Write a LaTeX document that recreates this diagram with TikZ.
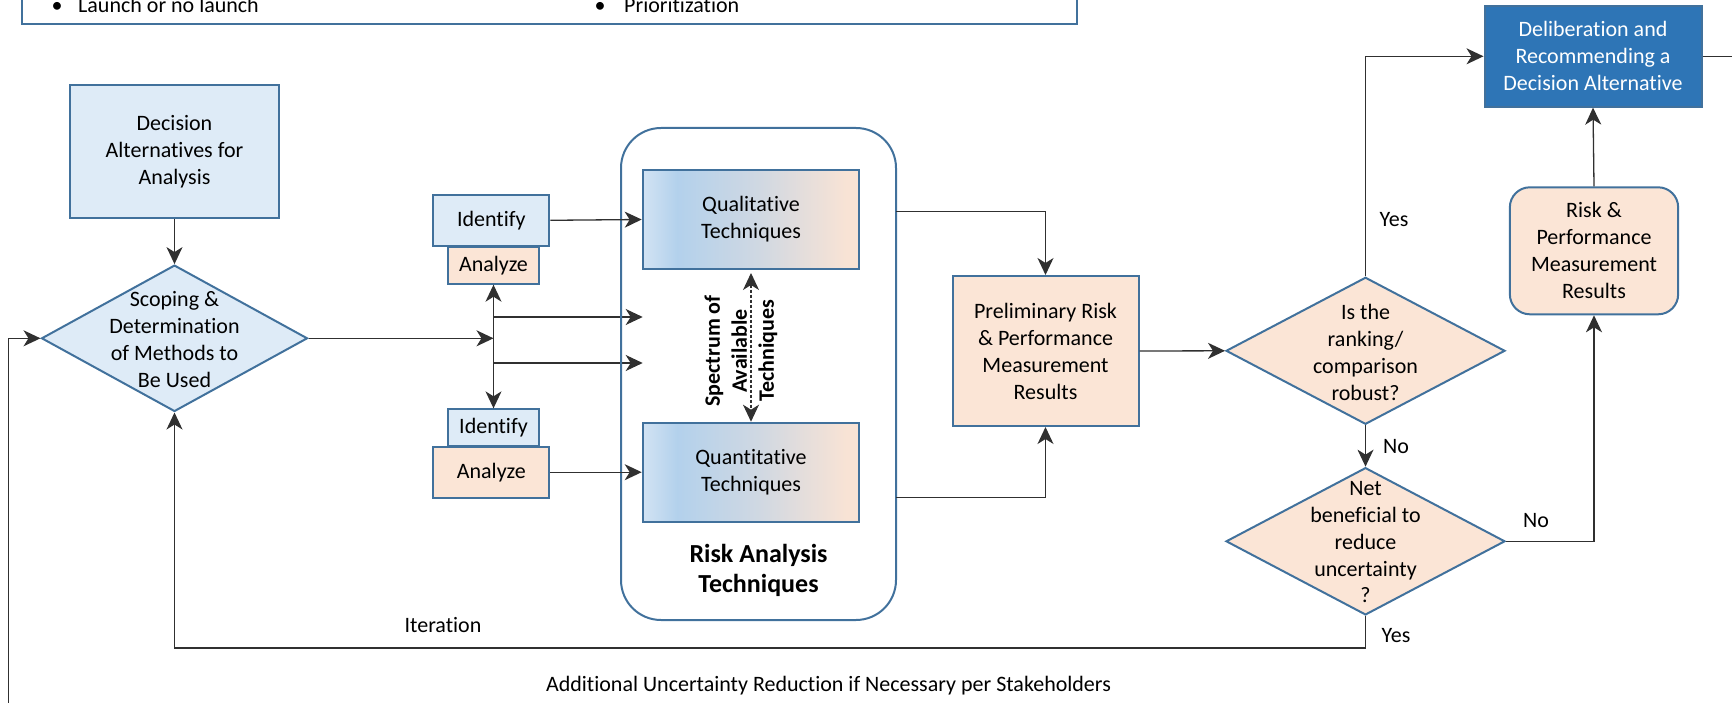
\documentclass[tikz,border=0pt]{standalone}
\usepackage{fontspec}
\setmainfont{Carlito}[Ligatures=NoCommon]
\usetikzlibrary{arrows.meta,shapes.geometric}
\definecolor{lblue}{HTML}{DEEBF7}
\definecolor{peach}{HTML}{FBE5D6}
\definecolor{bord}{HTML}{41719C}
\definecolor{dblue}{HTML}{2E75B6}
\definecolor{lnc}{HTML}{303030}
\definecolor{ga}{HTML}{D2E3F3}
\definecolor{gb}{HTML}{B3D1EC}
\definecolor{gc}{HTML}{D0D8E2}
\definecolor{gd}{HTML}{F8E3D5}
\pgfdeclarehorizontalshading{techgrad}{100bp}{color(0bp)=(ga); color(25bp)=(ga); color(33bp)=(gb); color(52bp)=(gc); color(72bp)=(gd); color(75bp)=(gd); color(100bp)=(gd)}
\tikzset{
  base/.style={font=\fontsize{22}{27}\selectfont, align=center, inner sep=0pt},
  rect/.style={base, draw=bord, line width=2pt, rectangle},
  dia/.style={draw=bord, line width=2pt, diamond, inner sep=0pt},
  conn/.style={draw=lnc, line width=1.3pt},
  arr/.style={conn, -{Stealth[length=17pt,width=16pt,inset=5pt]}},
  lbl/.style={base},
}
\begin{document}
\begin{tikzpicture}[x=1pt,y=-1pt]
\useasboundingbox (0,0) rectangle (1732,703);
\clip (0,0) rectangle (1732,703);

% top box (cropped)
\node[rect, minimum width=1055, minimum height=60.3] (topbox) at (549.5,-5.85) {};
\node[base, anchor=base] (bul1) at (57,13) {\textbullet};
\node[base, anchor=base west] (t1) at (78,13) {Launch or no launch};
\node[base, anchor=base] (bul2) at (600,13) {\textbullet};
\node[base, anchor=base west] (t2) at (624,13) {Prioritization};

% left column
\node[rect, fill=lblue, minimum width=209, minimum height=133] (da) at (174.5,151.5) {Decision\\Alternatives for\\Analysis};
\node[dia, fill=lblue, minimum width=266, minimum height=146.4] (scope) at (174.5,338.3) {};
\node[base] (scopet) at (174.5,339.5) {Scoping \&\\Determination\\of Methods to\\Be Used};
\draw[arr] (da.south) -- (scope.north);

% identify / analyze
\node[rect, fill=peach, minimum width=91.6, minimum height=37] (anaT) at (493.5,265.2) {Analyze};
\node[rect, fill=lblue, minimum width=116, minimum height=51.3] (idT) at (491.3,220.3) {Identify};
\node[rect, fill=lblue, minimum width=91.6, minimum height=36.7] (idB) at (493.5,427.7) {Identify};
\node[rect, fill=peach, minimum width=116, minimum height=51] (anaB) at (491.3,472.2) {Analyze};

\coordinate (j) at (493.5,338.3);
\coordinate (j1) at (493.5,317);
\coordinate (j2) at (493.5,363);
\coordinate (e1) at (642.7,317);
\coordinate (e2) at (642.7,363);
\draw[arr] (scope.east) -- (j);
\draw[arr] (j) -- (anaT.south);
\draw[arr] (j) -- (idB.north);
\draw[arr] (j1) -- (e1);
\draw[arr] (j2) -- (e2);

% container
\node[draw=bord, line width=2pt, rounded corners=40pt, minimum width=275, minimum height=492, inner sep=0pt] (cont) at (758.5,374) {};
\node[rect, shading=techgrad, minimum width=216.6, minimum height=99] (qual) at (751,219.5) {Qualitative\\Techniques};
\node[rect, shading=techgrad, minimum width=216.6, minimum height=99] (quant) at (751,472.2) {Quantitative\\Techniques};
\node[base, font=\fontsize{26}{30}\selectfont\bfseries] (rat) at (758.5,570) {Risk Analysis\\Techniques};
\node[base, font=\fontsize{22}{27}\selectfont\bfseries, rotate=90] (spec) at (741,351) {Spectrum of\\Available\\Techniques};
\coordinate (dq) at (751,273);
\draw[conn, line width=1.1pt, dash pattern=on 3pt off 2pt, {Stealth[length=17pt,width=16pt,inset=5pt]}-{Stealth[length=17pt,width=16pt,inset=5pt]}] (dq) -- (quant.north);

\draw[arr] (idT.east) -- (qual.west);
\draw[arr] (anaB.east) -- (quant.west);

% preliminary
\node[rect, fill=peach, minimum width=186, minimum height=150] (prel) at (1045.5,351) {Preliminary Risk\\\& Performance\\Measurement\\Results};
\coordinate (c1) at (896,211.7);
\coordinate (c2) at (896,497.7);
\draw[arr] (c1) -| (prel.north);
\draw[arr] (c2) -| (prel.south);

% decisions
\node[dia, fill=peach, minimum width=279, minimum height=147] (d1) at (1365.5,350.8) {};
\node[base] (d1t) at (1365.5,352) {Is the\\ranking/\\comparison\\robust?};
\node[dia, fill=peach, minimum width=279, minimum height=147.3] (d2) at (1365.5,541.3) {};
\node[base, font=\fontsize{22}{26.7}\selectfont] (d2t) at (1365.5,542.4) {Net\\beneficial to\\reduce\\uncertainty\\?};
\draw[arr] (prel.east) -- (d1.west);
\draw[arr] (d1.south) -- (d2.north);

% right column
\node[rect, fill=dblue, text=white, minimum width=217, minimum height=100.7] (delib) at (1593,56.3) {Deliberation and\\Recommending a\\Decision Alternative};
\node[rect, fill=peach, rounded corners=20pt, minimum width=168.3, minimum height=127] (risk) at (1594,250.8) {Risk \&\\Performance\\Measurement\\Results};
\coordinate (redge) at (1740,56.3);
\draw[conn] (delib.east) -- (redge);
\draw[arr] (d1.north) |- (delib.west);
\draw[arr] (risk.north) -- (delib.south);
\draw[arr] (d2.east) -| (risk.south);

% loops
\coordinate (lbot) at (174.5,648);
\draw[arr] (d2.south) |- (lbot) -- (scope.south);
\coordinate (lleft) at (8.5,720);
\draw[arr] (lleft) |- (scope.west);

% labels
\node[lbl] (yes1) at (1394,220) {Yes};
\node[lbl] (no1) at (1396,446.7) {No};
\node[lbl] (no2) at (1536,521) {No};
\node[lbl] (yes2) at (1396,636) {Yes};
\node[lbl] (iter) at (443,625) {Iteration};
\node[lbl] (addl) at (828.5,686) {Additional Uncertainty Reduction if Necessary per Stakeholders};
\end{tikzpicture}
\end{document}
